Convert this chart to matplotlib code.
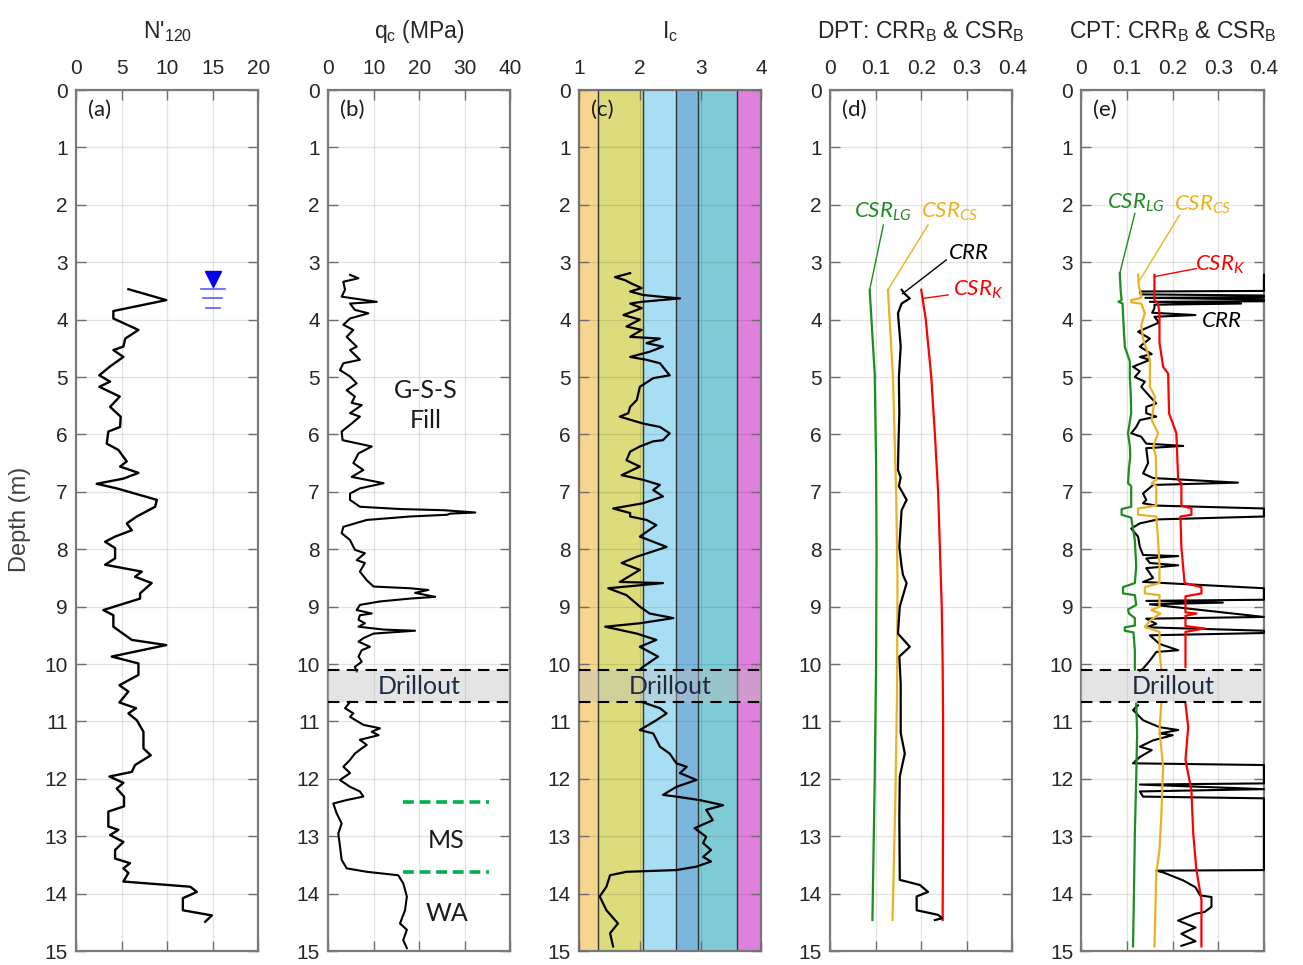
import numpy as np
import matplotlib
matplotlib.use("Agg")
import matplotlib.pyplot as plt

plt.rcParams['font.family'] = ['Liberation Sans', 'DejaVu Sans']
plt.rcParams['mathtext.fontset'] = 'custom'
plt.rcParams['mathtext.rm'] = 'Liberation Sans'
plt.rcParams['mathtext.it'] = 'Lato:italic'
plt.rcParams['mathtext.bf'] = 'Liberation Sans:bold'

# ---------------- data (depth, value) ----------------
n120 = [(3.47, 5.75), (3.66, 9.9), (3.85, 4.1), (3.98, 4.1), (4.18, 6.85), (4.33, 5.4), (4.47, 5.2),
        (4.53, 4.1), (4.65, 5.2), (4.82, 3.7), (4.97, 2.56), (5.08, 3.74), (5.17, 2.56), (5.34, 4.8),
        (5.52, 3.74), (5.69, 4.9), (5.87, 4.84), (5.95, 3.55), (6.16, 3.37), (6.27, 4.65), (6.47, 5.57),
        (6.56, 4.84), (6.67, 6.85), (6.77, 5.2), (6.86, 2.27), (6.94, 4.47), (7.14, 8.87), (7.26, 8.68),
        (7.43, 6.67), (7.55, 5.57), (7.67, 6.12), (7.78, 4.29), (7.87, 3.19), (7.98, 4.29), (8.16, 4.29),
        (8.27, 3.19), (8.39, 7.22), (8.48, 6.48), (8.59, 8.3), (8.77, 7.03), (8.86, 7.03), (9.06, 3.0),
        (9.15, 4.1), (9.35, 4.1), (9.58, 6.12), (9.67, 9.9), (9.87, 3.92), (9.99, 6.85), (10.19, 6.85),
        (10.37, 4.76), (10.48, 5.75), (10.67, 4.76), (10.77, 6.59), (10.86, 5.75), (10.98, 6.67),
        (11.18, 7.4), (11.47, 7.4), (11.59, 8.2), (11.76, 6.48), (11.88, 6.12), (11.96, 3.66),
        (12.07, 5.2), (12.17, 4.47), (12.31, 5.27), (12.48, 5.27), (12.57, 3.55), (12.83, 3.55),
        (12.89, 4.65), (12.98, 3.74), (13.1, 5.2), (13.24, 4.29), (13.39, 4.29), (13.47, 5.93),
        (13.56, 5.2), (13.64, 5.75), (13.79, 5.2), (13.88, 12.53), (13.97, 13.26), (14.08, 11.72),
        (14.29, 11.72), (14.38, 14.9), (14.49, 14.17)]
gwt_depth = 3.3
gwt_n = 15.0

qc_upper = [(3.22, 4.84), (3.28, 6.67), (3.34, 3.37), (3.48, 3.74), (3.6, 3.0), (3.69, 10.7), (3.72, 4.84),
            (3.83, 5.9), (3.89, 8.86), (3.98, 4.84), (4.09, 3.37), (4.18, 5.57), (4.3, 4.1), (4.47, 6.3),
            (4.53, 4.84), (4.7, 7.0), (4.76, 3.37), (4.88, 2.64), (4.99, 4.84), (5.11, 6.3), (5.23, 4.1),
            (5.34, 5.9), (5.45, 5.2), (5.49, 7.4), (5.63, 4.84), (5.69, 7.0), (5.81, 5.2), (5.95, 3.0),
            (6.1, 3.2), (6.16, 6.7), (6.21, 9.6), (6.33, 6.7), (6.5, 5.57), (6.62, 7.76), (6.74, 5.2),
            (6.85, 12.2), (6.94, 7.0), (7.03, 4.84), (7.14, 4.84), (7.26, 7.0), (7.3, 15.8), (7.32, 25.3),
            (7.36, 32.3), (7.38, 26.8), (7.4, 26.1), (7.43, 18.0), (7.49, 8.5), (7.61, 3.37), (7.72, 3.0),
            (7.84, 4.84), (8.01, 5.9), (8.07, 8.1), (8.19, 6.3), (8.24, 8.1), (8.39, 7.0), (8.54, 8.5),
            (8.65, 10.0), (8.68, 18.0), (8.71, 22.0), (8.76, 19.1), (8.83, 23.5), (8.86, 18.0),
            (8.91, 11.4), (8.97, 7.0), (9.06, 6.3), (9.12, 9.6), (9.15, 7.0), (9.23, 6.7), (9.29, 8.1),
            (9.35, 6.7), (9.4, 12.2), (9.42, 19.1), (9.47, 10.0), (9.55, 7.76), (9.61, 6.7), (9.7, 9.2),
            (9.76, 7.4), (9.87, 6.7), (9.96, 7.4), (10.05, 5.9), (10.13, 6.3)]
qc_lower = [(10.66, 4.84), (10.77, 3.74), (10.86, 5.57), (10.92, 4.84), (11.06, 7.76), (11.12, 11.4),
            (11.18, 9.6), (11.24, 11.1), (11.32, 7.0), (11.41, 8.5), (11.47, 7.4), (11.56, 5.9),
            (11.67, 4.84), (11.79, 3.37), (11.9, 4.84), (12.02, 2.64), (12.14, 4.84), (12.22, 7.0),
            (12.31, 7.76), (12.37, 4.1), (12.43, 1.17), (12.6, 1.9), (12.78, 3.0), (12.95, 2.27),
            (13.18, 2.64), (13.41, 3.0), (13.56, 4.1), (13.62, 8.5), (13.68, 15.4), (13.82, 16.5),
            (14.05, 17.3), (14.29, 16.9), (14.52, 15.8), (14.63, 17.3), (14.81, 16.5), (14.95, 17.3)]
ms_bounds = [12.4, 13.62]

ic_upper = [(3.19, 1.84), (3.26, 1.59), (3.31, 1.75), (3.37, 1.86), (3.45, 2.03), (3.51, 1.84), (3.57, 2.05),
            (3.6, 2.33), (3.63, 2.66), (3.69, 2.03), (3.72, 1.84), (3.8, 2.03), (3.92, 1.73), (4.0, 2.0),
            (4.12, 1.78), (4.18, 2.03), (4.3, 1.84), (4.33, 2.33), (4.41, 2.11), (4.47, 2.38), (4.56, 2.16),
            (4.65, 1.84), (4.7, 2.11), (4.76, 2.33), (4.97, 2.49), (5.02, 2.22), (5.17, 2.0), (5.4, 1.95),
            (5.52, 1.84), (5.63, 1.81), (5.69, 1.67), (5.81, 2.05), (5.87, 2.33), (5.98, 2.49), (6.1, 2.38),
            (6.12, 2.22), (6.21, 2.0), (6.3, 1.84), (6.45, 1.78), (6.56, 2.0), (6.71, 1.7), (6.79, 2.05),
            (6.88, 2.33), (6.97, 2.22), (7.08, 2.38), (7.2, 2.05), (7.29, 1.56), (7.37, 1.84), (7.43, 1.84),
            (7.49, 2.11), (7.58, 2.27), (7.78, 2.0), (7.96, 2.44), (8.13, 1.95), (8.24, 1.7), (8.36, 2.0),
            (8.57, 1.67), (8.59, 2.38), (8.68, 1.48), (8.8, 1.78), (9.0, 2.0), (9.12, 2.16), (9.2, 2.55),
            (9.29, 2.0), (9.35, 1.43), (9.47, 1.95), (9.58, 2.27), (9.7, 2.0), (9.87, 2.3), (10.05, 2.05),
            (10.1, 2.0)]
ic_lower = [(10.66, 2.03), (10.77, 2.33), (10.86, 2.44), (10.98, 2.27), (11.15, 2.0), (11.21, 2.22),
            (11.44, 2.33), (11.56, 2.49), (11.73, 2.6), (11.79, 2.77), (11.9, 2.66), (12.02, 2.93),
            (12.14, 2.6), (12.28, 2.38), (12.31, 2.6), (12.37, 2.98), (12.46, 3.37), (12.54, 3.09),
            (12.72, 3.2), (12.86, 2.9), (13.01, 3.09), (13.12, 3.04), (13.24, 3.17), (13.36, 3.04),
            (13.44, 3.17), (13.53, 2.93), (13.59, 2.6), (13.62, 1.78), (13.68, 1.51), (13.88, 1.45),
            (14.05, 1.34), (14.29, 1.45), (14.52, 1.64), (14.69, 1.51), (14.92, 1.56)]
ic_zone_bounds = [1.0, 1.31, 2.05, 2.6, 2.95, 3.6, 4.0]
ic_zone_colors = ['#F6D68E', '#DCDC7C', '#A8DEF3', '#7DB6DC', '#7DCBD5', '#DE80DC']

csr_lg_dpt = [(3.48, 0.087), (4.94, 0.098), (6.5, 0.101), (8.0, 0.102), (10.0, 0.101), (12.0, 0.098),
              (14.46, 0.093)]
csr_cs_dpt = [(3.48, 0.127), (5.0, 0.138), (7.0, 0.145), (8.5, 0.148), (10.5, 0.147), (12.5, 0.143),
              (14.46, 0.137)]
csr_k_dpt = [(3.48, 0.200), (4.0, 0.210), (5.0, 0.222), (6.0, 0.230), (7.0, 0.237), (8.0, 0.241),
             (9.0, 0.245), (10.0, 0.247), (11.0, 0.248), (12.5, 0.248), (14.46, 0.247)]
crr_dpt = [(3.48, 0.157), (3.56, 0.165), (3.63, 0.175), (3.72, 0.157), (3.89, 0.149), (4.47, 0.155),
           (5.0, 0.151), (5.63, 0.152), (6.2, 0.150), (6.62, 0.149), (6.75, 0.155), (6.9, 0.151),
           (7.14, 0.168), (7.32, 0.157), (7.96, 0.152), (8.3, 0.157), (8.45, 0.160), (8.59, 0.168),
           (9.0, 0.153), (9.47, 0.149), (9.7, 0.175), (9.87, 0.152), (10.34, 0.155), (11.2, 0.155),
           (11.56, 0.164), (11.96, 0.153), (12.66, 0.152), (13.76, 0.153), (13.85, 0.197), (13.97, 0.215),
           (14.05, 0.19), (14.29, 0.19), (14.37, 0.237), (14.43, 0.246), (14.46, 0.23)]

csr_lg_cpt_upper = [(3.19, 0.084), (3.5, 0.086), (3.66, 0.088), (3.69, 0.081), (3.72, 0.09), (3.89, 0.091),
                    (4.2, 0.093), (4.47, 0.095), (4.73, 0.106), (5.0, 0.106), (5.3, 0.108), (5.63, 0.109),
                    (5.98, 0.102), (6.2, 0.106), (6.38, 0.107), (6.6, 0.104), (6.85, 0.102), (6.9, 0.109),
                    (7.26, 0.109), (7.3, 0.088), (7.4, 0.088), (7.45, 0.109), (7.84, 0.117), (8.3, 0.12),
                    (8.59, 0.117), (8.66, 0.091), (8.77, 0.091), (8.8, 0.117), (8.97, 0.12), (9.05, 0.102),
                    (9.12, 0.104), (9.2, 0.117), (9.33, 0.117), (9.36, 0.095), (9.42, 0.095), (9.45, 0.114),
                    (9.76, 0.117), (10.1, 0.117)]
csr_lg_cpt_lower = [(10.69, 0.12), (11.2, 0.122), (12.0, 0.12), (12.95, 0.117), (14.0, 0.115), (14.92, 0.113)]
csr_cs_cpt_upper = [(3.22, 0.124), (3.43, 0.126), (3.57, 0.131), (3.62, 0.131), (3.66, 0.109), (3.7, 0.109),
                    (3.72, 0.131), (3.89, 0.139), (4.1, 0.131), (4.33, 0.135), (4.7, 0.15), (5.17, 0.15),
                    (5.34, 0.161), (5.75, 0.154), (5.98, 0.168), (6.21, 0.157), (6.38, 0.163), (6.79, 0.164),
                    (6.85, 0.154), (6.9, 0.164), (7.24, 0.164), (7.29, 0.124), (7.4, 0.124), (7.43, 0.164),
                    (7.84, 0.168), (8.3, 0.171), (8.59, 0.171), (8.66, 0.139), (8.77, 0.139), (8.8, 0.171),
                    (9.0, 0.171), (9.06, 0.153), (9.12, 0.173), (9.24, 0.151), (9.35, 0.139), (9.44, 0.171),
                    (9.76, 0.171), (10.1, 0.175)]
csr_cs_cpt_lower = [(10.69, 0.175), (11.15, 0.171), (11.79, 0.179), (12.66, 0.175), (13.24, 0.171),
                    (13.65, 0.164), (14.3, 0.162), (14.92, 0.16)]
csr_k_cpt_upper = [(3.22, 0.16), (3.66, 0.16), (3.72, 0.168), (3.89, 0.171), (4.4, 0.171), (4.82, 0.179),
                   (4.94, 0.19), (5.63, 0.192), (5.98, 0.208), (6.79, 0.212), (6.85, 0.219), (7.24, 0.219),
                   (7.29, 0.241), (7.4, 0.241), (7.43, 0.217), (7.96, 0.219), (8.59, 0.226), (8.66, 0.263),
                   (8.77, 0.263), (8.82, 0.228), (9.1, 0.228), (9.12, 0.252), (9.16, 0.228), (9.34, 0.228),
                   (9.38, 0.27), (9.44, 0.228), (10.05, 0.228)]
csr_k_cpt_lower = [(10.69, 0.228), (11.1, 0.234), (11.67, 0.228), (12.2, 0.241), (12.95, 0.245),
                   (13.59, 0.252), (14.11, 0.263), (14.92, 0.263)]
crr_cpt_upper = [(3.22, 0.40), (3.50, 0.40), (3.51, 0.128), (3.56, 0.13), (3.58, 0.40), (3.61, 0.40),
                 (3.62, 0.14), (3.65, 0.40), (3.68, 0.40), (3.69, 0.15), (3.72, 0.35), (3.74, 0.16),
                 (3.80, 0.16), (3.88, 0.155), (3.92, 0.25), (3.95, 0.16), (4.05, 0.17), (4.12, 0.15),
                 (4.21, 0.124), (4.33, 0.15), (4.47, 0.128), (4.6, 0.154), (4.65, 0.128), (4.7, 0.15),
                 (4.82, 0.113), (4.9, 0.128), (5.0, 0.117), (5.08, 0.139), (5.17, 0.131), (5.34, 0.15),
                 (5.46, 0.164), (5.52, 0.142), (5.63, 0.142), (5.69, 0.164), (5.75, 0.128), (5.87, 0.12),
                 (5.98, 0.109), (6.04, 0.131), (6.16, 0.142), (6.2, 0.223), (6.24, 0.142), (6.5, 0.146),
                 (6.68, 0.135), (6.76, 0.157), (6.84, 0.343), (6.88, 0.157), (7.03, 0.135), (7.14, 0.142),
                 (7.2, 0.135), (7.24, 0.164), (7.29, 0.40), (7.43, 0.40), (7.48, 0.168), (7.55, 0.128),
                 (7.64, 0.109), (7.78, 0.124), (7.96, 0.128), (8.1, 0.135), (8.12, 0.212), (8.16, 0.142),
                 (8.24, 0.15), (8.28, 0.212), (8.33, 0.142), (8.5, 0.157), (8.57, 0.135), (8.68, 0.40),
                 (8.88, 0.40), (8.9, 0.142), (8.93, 0.31), (8.96, 0.15), (9.18, 0.40), (9.21, 0.142),
                 (9.3, 0.164), (9.36, 0.142), (9.42, 0.40), (9.46, 0.40), (9.5, 0.15), (9.65, 0.171),
                 (9.76, 0.212), (9.79, 0.164), (9.94, 0.15), (10.08, 0.135), (10.12, 0.128)]
crr_cpt_lower = [(10.72, 0.124), (10.8, 0.113), (10.98, 0.135), (11.1, 0.171), (11.15, 0.212), (11.21, 0.171),
                 (11.24, 0.2), (11.33, 0.157), (11.44, 0.128), (11.5, 0.154), (11.62, 0.128), (11.73, 0.113),
                 (11.76, 0.40), (12.08, 0.40), (12.1, 0.128), (12.18, 0.40), (12.22, 0.128), (12.31, 0.135),
                 (12.34, 0.40), (13.59, 0.40), (13.6, 0.164), (13.63, 0.179), (13.77, 0.223), (13.89, 0.25),
                 (14.03, 0.26), (14.06, 0.285), (14.23, 0.285), (14.32, 0.27), (14.35, 0.25), (14.47, 0.212),
                 (14.59, 0.25), (14.7, 0.219), (14.83, 0.25), (14.91, 0.219)]

drillout_top = 10.11
drillout_bot = 10.66

# ---------------- figure ----------------
fig = plt.figure(figsize=(13.03, 9.65), dpi=100)
lefts = [0.0583, 0.2517, 0.4444, 0.6370, 0.8300]
W, B, H = 0.1400, 0.0145, 0.8922
axes = [fig.add_axes([l, B, W, H]) for l in lefts]

TXT = '#262626'
INNER = ['Lato', 'DejaVu Sans']


def prof(ax, data, **kw):
    d = np.array(data)
    ax.plot(d[:, 1], d[:, 0], **kw)


def style(ax, xlim, xticks, xlabels, title, tag):
    ax.set_xlim(xlim)
    ax.set_ylim(15, 0)
    ax.set_xticks(xticks)
    ax.set_xticklabels(xlabels)
    ax.set_yticks(range(16))
    ax.xaxis.tick_top()
    ax.tick_params(axis='both', which='both', direction='in', length=7, width=1, color='#6e6e6e',
                   labelsize=15, labelcolor=TXT, top=True, bottom=True, left=True, right=True,
                   labeltop=True, labelbottom=False)
    ax.tick_params(axis='x', pad=9)
    ax.tick_params(axis='y', pad=6)
    ax.grid(True, color='#262626', alpha=0.13, lw=0.9)
    for s in ax.spines.values():
        s.set_color('#7a7a7a')
        s.set_linewidth(1.6)
    ax.text(0.5, 1.068, title, transform=ax.transAxes, ha='center', va='center', fontsize=16.5, color=TXT)
    ax.text(0.065, 0.977, tag, transform=ax.transAxes, ha='left', va='center', fontsize=16,
            family=INNER, color='#1a1a1a', zorder=6)


def drillout(ax):
    ax.axhspan(drillout_top, drillout_bot, color='#BFBFBF', alpha=0.42, lw=0, zorder=4)
    ax.axhline(drillout_top, color='k', lw=1.5, ls=(0, (5.5, 3.5)), zorder=5)
    ax.axhline(drillout_bot, color='k', lw=1.5, ls=(0, (5.5, 3.5)), zorder=5)
    xm = np.mean(ax.get_xlim())
    ax.text(xm, (drillout_top + drillout_bot) / 2, 'Drillout', ha='center', va='center',
            fontsize=18, family=INNER, color='#1f2a44', zorder=6)


# (a) N'120
ax = axes[0]
style(ax, (0, 20), [0, 5, 10, 15, 20], ['0', '5', '10', '15', '20'], "N'$_{\\mathrm{120}}$", '(a)')
prof(ax, n120, color='k', lw=1.7)
ax.plot([gwt_n], [gwt_depth], marker='v', ms=12, color='#0000ee', ls='none')
for i, half in enumerate([1.3, 1.05, 0.75]):
    ax.plot([gwt_n - half, gwt_n + half], [gwt_depth + 0.17 + 0.16 * i] * 2, color='#5a5aff', lw=1.2)
fig.text(0.0155, 0.462, 'Depth (m)', rotation=90, ha='center', va='center', fontsize=17, color='#404040')

# (b) qc
ax = axes[1]
style(ax, (0, 40), [0, 10, 20, 30, 40], ['0', '10', '20', '30', '40'], 'q$_{\\mathrm{c}}$ (MPa)', '(b)')
prof(ax, qc_upper, color='k', lw=1.5)
prof(ax, qc_lower, color='k', lw=1.5)
drillout(ax)
ax.hlines(ms_bounds, 16.5, 35.4, colors='#00B050', lw=2.6, linestyles=(0, (3, 1.6)))
ax.text(21.5, 5.5, 'G-S-S\nFill', ha='center', va='center', fontsize=18, family=INNER,
        linespacing=1.35, color='#1a1a1a')
ax.text(25.9, 13.07, 'MS', ha='center', va='center', fontsize=18, family=INNER, color='#1a1a1a')
ax.text(26.0, 14.34, 'WA', ha='center', va='center', fontsize=18, family=INNER, color='#1a1a1a')

# (c) Ic
ax = axes[2]
style(ax, (1, 4), [1, 2, 3, 4], ['1', '2', '3', '4'], 'I$_{\\mathrm{c}}$', '(c)')
for x0, x1, c in zip(ic_zone_bounds[:-1], ic_zone_bounds[1:], ic_zone_colors):
    ax.axvspan(x0, x1, color=c, lw=0, zorder=0.5)
for x in ic_zone_bounds[1:-1]:
    ax.axvline(x, color='#333333', lw=1, zorder=0.6)
ax.set_axisbelow(False)
prof(ax, ic_upper, color='k', lw=1.6, zorder=3)
prof(ax, ic_lower, color='k', lw=1.6, zorder=3)
drillout(ax)

# (d) DPT
ax = axes[3]
ticks = [0, 0.1, 0.2, 0.3, 0.4]
tlabels = ['0', '0.1', '0.2', '0.3', '0.4']
style(ax, (0, 0.4), ticks, tlabels, 'DPT: CRR$_{\\mathrm{B}}$ & CSR$_{\\mathrm{B}}$', '(d)')
GREEN, ORANGE, RED = '#1E8C1E', '#EDB120', '#FF0000'
prof(ax, csr_lg_dpt, color=GREEN, lw=1.6)
prof(ax, csr_cs_dpt, color=ORANGE, lw=1.6)
prof(ax, csr_k_dpt, color=RED, lw=1.6)
prof(ax, crr_dpt, color='k', lw=1.6)
ax.plot([0.117, 0.087], [2.35, 3.48], color=GREEN, lw=1)
ax.plot([0.215, 0.127], [2.35, 3.48], color=ORANGE, lw=1)
ax.plot([0.255, 0.159], [2.96, 3.55], color='k', lw=1)
ax.plot([0.259, 0.204], [3.57, 3.63], color=RED, lw=1)
ax.text(0.117, 2.12, r'$\mathit{CSR}_{\mathit{LG}}$', color=GREEN, fontsize=16, ha='center', va='center')
ax.text(0.262, 2.12, r'$\mathit{CSR}_{\mathit{CS}}$', color=ORANGE, fontsize=16, ha='center', va='center')
ax.text(0.303, 2.85, r'$\mathit{CRR}$', color='k', fontsize=16, ha='center', va='center')
ax.text(0.325, 3.48, r'$\mathit{CSR}_{\mathit{K}}$', color=RED, fontsize=16, ha='center', va='center')

# (e) CPT
ax = axes[4]
style(ax, (0, 0.4), ticks, tlabels, 'CPT: CRR$_{\\mathrm{B}}$ & CSR$_{\\mathrm{B}}$', '(e)')
for seg in (crr_cpt_upper, crr_cpt_lower):
    prof(ax, seg, color='k', lw=1.5, clip_on=False, zorder=2.6)
for seg in (csr_lg_cpt_upper, csr_lg_cpt_lower):
    prof(ax, seg, color=GREEN, lw=1.6, zorder=2.7)
for seg in (csr_cs_cpt_upper, csr_cs_cpt_lower):
    prof(ax, seg, color=ORANGE, lw=1.6, zorder=2.7)
for seg in (csr_k_cpt_upper, csr_k_cpt_lower):
    prof(ax, seg, color=RED, lw=1.6, zorder=2.7)
drillout(ax)
ax.plot([0.117, 0.084], [2.15, 3.19], color=GREEN, lw=1)
ax.plot([0.215, 0.128], [2.18, 3.31], color=ORANGE, lw=1)
ax.plot([0.252, 0.16], [3.11, 3.25], color=RED, lw=1)
ax.text(0.12, 1.97, r'$\mathit{CSR}_{\mathit{LG}}$', color=GREEN, fontsize=16, ha='center', va='center')
ax.text(0.266, 2.0, r'$\mathit{CSR}_{\mathit{CS}}$', color=ORANGE, fontsize=16, ha='center', va='center')
ax.text(0.303, 3.05, r'$\mathit{CSR}_{\mathit{K}}$', color=RED, fontsize=16, ha='center', va='center')
ax.text(0.306, 4.04, r'$\mathit{CRR}$', color='k', fontsize=16, ha='center', va='center')

fig.savefig('out.png', dpi=100)
